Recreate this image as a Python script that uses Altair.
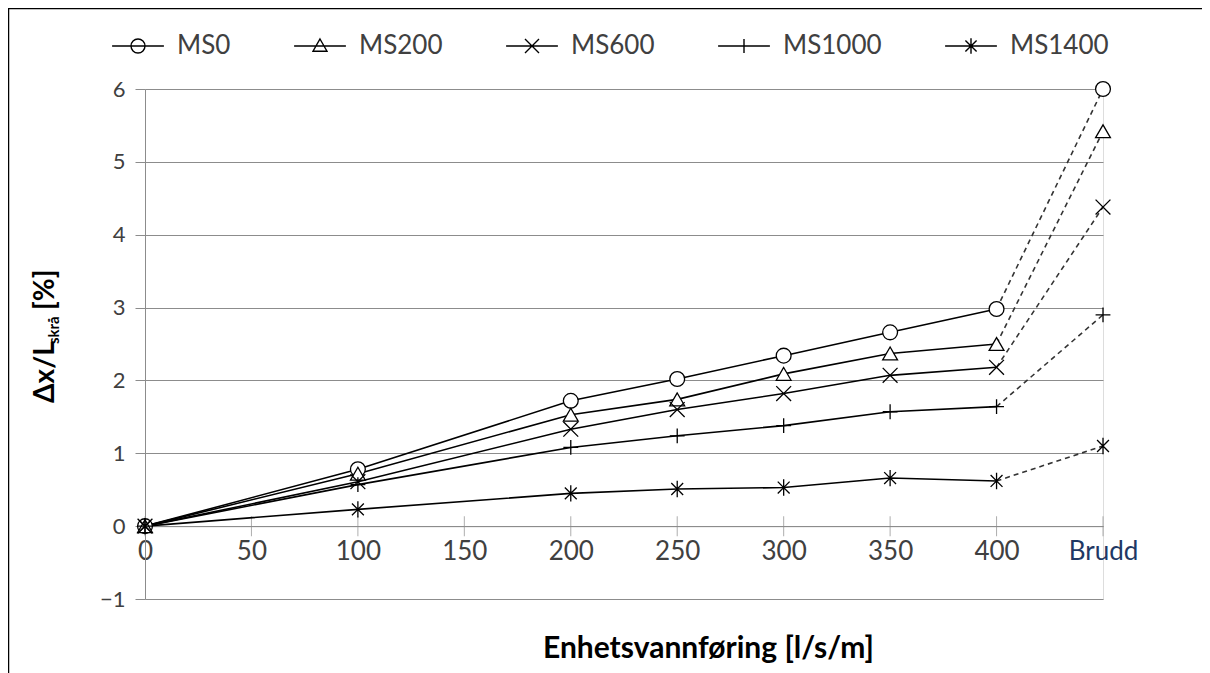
import altair as alt
import pandas as pd

# ---- data ----
x_positions = [0, 100, 200, 250, 300, 350, 400, 450]   # 450 = "Brudd"
x_ticks = [0, 50, 100, 150, 200, 250, 300, 350, 400, 450]
y_ticks = [-1, 0, 1, 2, 3, 4, 5, 6]
break_position = 450
break_label = "Brudd"
last_measured = 400
series = ["MS0", "MS200", "MS600", "MS1000", "MS1400"]
ms0 = [0, 0.78, 1.72, 2.02, 2.34, 2.66, 2.98, 6.00]
ms200 = [0, 0.72, 1.53, 1.74, 2.09, 2.37, 2.50, 5.42]
ms600 = [0, 0.61, 1.33, 1.60, 1.82, 2.07, 2.18, 4.38]
ms1000 = [0, 0.57, 1.08, 1.24, 1.38, 1.57, 1.64, 2.90]
ms1400 = [0, 0.23, 0.45, 0.51, 0.53, 0.66, 0.62, 1.10]
y_title_main = "Δx/L"
y_title_sub = "skrå"
y_title_tail = "[%]"
x_title = "Enhetsvannføring [l/s/m]"

values = {"MS0": ms0, "MS200": ms200, "MS600": ms600, "MS1000": ms1000, "MS1400": ms1400}
rows = []
for s in series:
    for xv, yv in zip(x_positions, values[s]):
        rows.append({"serie": s, "x": xv, "y": yv})
df = pd.DataFrame(rows)
ticks_df = pd.DataFrame({"x": x_ticks, "y": [0] * len(x_ticks)})
one = pd.DataFrame({"k": [0]})

FONT = "Lato"
GRID = "#8c8c8c"
TXT = "#404040"

# marker shapes
marker_shapes = [
    "circle",
    "triangle-up",
    "M-1,-1L1,1M-1,1L1,-1",
    "M-1,0L1,0M0,-1L0,1",
    "M0,-1.1L0,1.1M-0.8,-0.8L0.8,0.8M-0.8,0.8L0.8,-0.8",
]
marker_sizes = [220, 220, 300, 300, 300]
seg = "M-3.7,0L3.7,0"
legend_shapes = [
    seg + "M1,0A1,1,0,1,1,-1,0A1,1,0,1,1,1,0Z",
    seg + "M0,-1L1,0.75L-1,0.75Z",
    seg + "M-1,-1L1,1M-1,1L1,-1",
    seg + "M0,-1L0,1",
    seg + "M0,-1.1L0,1.1M-0.8,-0.8L0.8,0.8M-0.8,0.8L0.8,-0.8",
]

W, H = 958, 510
px_per_unit = H / (y_ticks[-1] - y_ticks[0])

x_enc = alt.X(
    "x:Q",
    scale=alt.Scale(domain=[0, break_position], nice=False, zero=False),
    axis=alt.Axis(
        values=x_ticks,
        labelExpr=f"datum.value == {break_position} ? '{break_label}' : datum.label",
        labelColor={"condition": {"test": f"datum.value == {break_position}", "value": "#1f3864"}, "value": TXT},
        labelFont=FONT, labelFontSize=26, labelPadding=12, labelFlush=False,
        ticks=False, grid=False, domain=True, domainColor=GRID,
        offset=-px_per_unit,
        title=x_title,
        titleFont=FONT, titleFontSize=30, titleFontWeight="bold", titleColor="#000000",
        titleX=563, titleY=122, titleAlign="center", titleBaseline="middle",
    ),
)
y_enc = alt.Y(
    "y:Q",
    scale=alt.Scale(domain=[y_ticks[0], y_ticks[-1]], nice=False, zero=False),
    axis=alt.Axis(
        values=y_ticks, format="d",
        labelFont=FONT, labelFontSize=22, labelColor=TXT, labelPadding=10,
        tickSize=10, tickColor=GRID, domainColor=GRID,
        grid=True, gridColor=GRID, gridWidth=1,
        title=None,
    ),
)

base = alt.Chart(df)

xticks_layer = alt.Chart(ticks_df).mark_tick(
    orient="vertical", size=20, thickness=1, color=GRID
).encode(x=x_enc, y=y_enc)

solid = base.transform_filter(f"datum.x <= {last_measured}").mark_line(
    color="black", strokeWidth=1.6
).encode(x=x_enc, y=y_enc, detail="serie:N")

dashed = base.transform_filter(f"datum.x >= {last_measured}").mark_line(
    color="#333333", strokeWidth=1.6, strokeDash=[5, 4]
).encode(x=x_enc, y=y_enc, detail="serie:N")

points = base.mark_point(
    filled=True, fill="white", stroke="black", strokeWidth=1.3, opacity=1
).encode(
    x=x_enc, y=y_enc,
    shape=alt.Shape("serie:N", scale=alt.Scale(domain=series, range=marker_shapes), legend=None),
    size=alt.Size("serie:N", scale=alt.Scale(domain=series, range=marker_sizes), legend=None),
)

legend_layer = base.mark_point(color="black", opacity=0).encode(
    x=x_enc, y=y_enc,
    shape=alt.Shape(
        "serie:N",
        scale=alt.Scale(domain=series, range=legend_shapes),
        legend=alt.Legend(
            title=None, orient="none", direction="horizontal",
            legendX=-20, legendY=-56, padding=0,
            labelFont=FONT, labelFontSize=26, labelColor=TXT,
            labelOffset=26, columnPadding=60,
            symbolSize=196, symbolOpacity=1, symbolStrokeColor="black",
            symbolStrokeWidth=1.4, symbolFillColor="transparent",
        ),
    ),
)

# y-axis title with a real subscript, drawn as three rotated text pieces
title_base_x = -91      # baseline of main text, relative to plot origin
title_start_y = 314     # where the title starts (bottom), relative to plot origin
main_w, sub_w = 59, 34
t_main = alt.Chart(one).mark_text(
    text=y_title_main, angle=270, align="left", baseline="alphabetic",
    font=FONT, fontSize=28, fontWeight="bold", color="black",
).encode(x=alt.value(title_base_x), y=alt.value(title_start_y))
t_sub = alt.Chart(one).mark_text(
    text=y_title_sub, angle=270, align="left", baseline="alphabetic",
    font=FONT, fontSize=15, fontWeight="bold", color="black",
).encode(x=alt.value(title_base_x + 5), y=alt.value(title_start_y - main_w))
t_tail = alt.Chart(one).mark_text(
    text=y_title_tail, angle=270, align="left", baseline="alphabetic",
    font=FONT, fontSize=28, fontWeight="bold", color="black",
).encode(x=alt.value(title_base_x), y=alt.value(title_start_y - main_w - sub_w))

frame = alt.Chart(one).mark_rule(color="black", strokeWidth=1.5).encode(
    x=alt.value(-136.5), y=alt.value(-81), y2=alt.value(584)
)
frame_top = alt.Chart(one).mark_rule(color="black", strokeWidth=1.5).encode(
    x=alt.value(-137), x2=alt.value(1057), y=alt.value(-80.5)
)

chart = alt.layer(
    xticks_layer, solid, dashed, points, legend_layer,
    t_main, t_sub, t_tail, frame, frame_top
).resolve_scale(shape="independent", size="independent").properties(
    width=W, height=H,
    autosize=alt.AutoSizeParams(type="none"),
    padding={"left": 137, "top": 81, "right": 99, "bottom": 74},
).configure_view(stroke=None).configure(background="white")

chart.save("out.html", embed_options={"renderer": "svg", "actions": False})
